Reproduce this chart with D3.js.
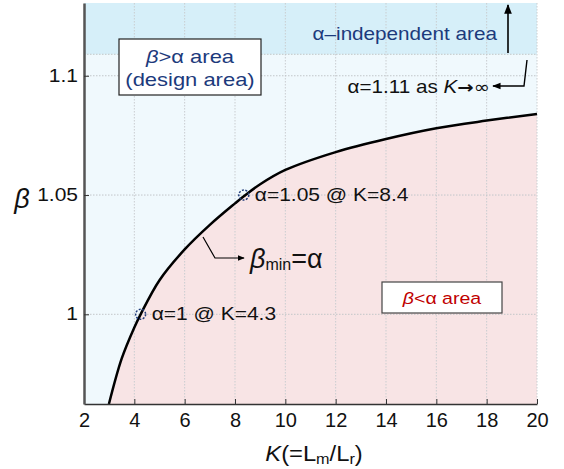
<!DOCTYPE html>
<html>
<head>
<meta charset="utf-8" />
<title>beta min vs K</title>
<script src="https://d3js.org/d3.v7.min.js"></script>
<style type="text/css">
body { margin: 0; background: #fff; }
svg text { font-family: "Liberation Sans", Arial, sans-serif; }
</style>
</head>
<body>
<div id="svg"></div>
<script type="text/javascript">
// values
var kValues = [2.99, 3.5, 4, 4.25, 5, 6, 7, 8, 8.35, 9, 10, 12, 14, 16, 18, 20];
var betaMin = [0.9624, 0.9815, 0.9945, 1.0, 1.0143, 1.0272, 1.0375, 1.0465, 1.0495, 1.0545, 1.0605, 1.068, 1.0735, 1.078, 1.0812, 1.084];
var markK = [4.25, 8.35];
var markBeta = [1.0, 1.05];
var markText = ["α=1 @ K=4.3", "α=1.05 @ K=8.4"];
var alphaInf = 1.109;
var xTicks = [2, 4, 6, 8, 10, 12, 14, 16, 18, 20];
var yTicks = [1, 1.05, 1.1];
var yTickLabels = ["1", "1.05", "1.1"];

var width = 564,
    height = 469,
    sx = 1.2; // text in the picture is a bit wide

var svg = d3.select("#svg")
    .append("svg")
    .attr("width", width)
    .attr("height", height);

var xScale = d3.scaleLinear()
    .domain([2, 20])
    .range([84, 537]);

var yScale = d3.scaleLinear()
    .domain([0.9624, 1.1305])
    .range([404, 3]);

var x0 = xScale.range()[0], x1 = xScale.range()[1],
    yTop = yScale.range()[1], yBot = yScale.range()[0];

var curve = kValues.map((k, i) => [k, betaMin[i]]);

// areas
svg.append("rect")
    .attr("x", x0).attr("y", yTop)
    .attr("width", x1 - x0).attr("height", yBot - yTop)
    .attr("fill", "#f0f9fd");

svg.append("rect")
    .attr("x", x0).attr("y", yTop)
    .attr("width", x1 - x0).attr("height", yScale(alphaInf) - yTop)
    .attr("fill", "#d6eff9");

var area = d3.area()
    .x(d => xScale(d[0]))
    .y0(yBot)
    .y1(d => yScale(d[1]))
    .curve(d3.curveCatmullRom.alpha(0.5));

svg.append("path")
    .datum(curve)
    .attr("d", area)
    .attr("fill", "#f8e4e5");

// grid
svg.selectAll(".gx")
    .data(xTicks.slice(1))
    .enter()
    .append("line")
    .attr("x1", d => xScale(d)).attr("x2", d => xScale(d))
    .attr("y1", yTop).attr("y2", yBot)
    .attr("stroke", "#c9cdd0")
    .attr("stroke-width", 1)
    .attr("stroke-dasharray", "1.5,1.5");

svg.selectAll(".gy")
    .data(yTicks.concat([alphaInf]))
    .enter()
    .append("line")
    .attr("x1", x0).attr("x2", x1)
    .attr("y1", d => yScale(d)).attr("y2", d => yScale(d))
    .attr("stroke", "#c2c6c9")
    .attr("stroke-width", 1)
    .attr("stroke-dasharray", "1.5,1.5");

// curve
var line = d3.line()
    .x(d => xScale(d[0]))
    .y(d => yScale(d[1]))
    .curve(d3.curveCatmullRom.alpha(0.5));

svg.append("path")
    .datum(curve)
    .attr("d", line)
    .attr("fill", "none")
    .attr("stroke", "#000")
    .attr("stroke-width", 2.5);

// axes
var xAxis = d3.axisBottom(xScale)
    .tickValues(xTicks)
    .tickFormat(d3.format("d"))
    .tickSizeInner(-5)
    .tickSizeOuter(0)
    .tickPadding(9);

var yAxis = d3.axisLeft(yScale)
    .tickValues(yTicks)
    .tickFormat((d, i) => yTickLabels[i])
    .tickSizeInner(-5)
    .tickSizeOuter(0)
    .tickPadding(6);

var gX = svg.append("g")
    .attr("transform", "translate(0," + yBot + ")")
    .call(xAxis);
gX.select(".domain").attr("stroke", "#333").attr("stroke-width", 1.5);
gX.selectAll(".tick line").attr("stroke", "#333");
gX.selectAll(".tick text").attr("font-size", 20).attr("fill", "#111")
    .attr("font-family", "Liberation Sans, Arial, sans-serif");

var gY = svg.append("g")
    .attr("transform", "translate(" + x0 + ",0)")
    .call(yAxis);
gY.select(".domain").attr("stroke", "#555").attr("stroke-width", 2.5);
gY.selectAll(".tick line").attr("stroke", "#333");
gY.selectAll(".tick text").attr("font-size", 17.5).attr("fill", "#111")
    .attr("font-family", "Liberation Sans, Arial, sans-serif")
    .attr("transform", "scale(1.2,1)")
    .attr("x", -6 / 1.2);

// text helper: parts are [text, italic]
function label(x, y, size, color, parts, anchor, k) {
    var t = svg.append("text")
        .attr("transform", "translate(" + x + "," + y + ") scale(" + (k || sx) + ",1)")
        .attr("font-size", size)
        .attr("fill", color)
        .attr("text-anchor", anchor || "start");
    parts.forEach(p => {
        t.append("tspan").text(p[0]).attr("font-style", p[1] ? "italic" : null);
    });
    return t;
}

// axis titles
label(22, 208, 27, "#111", [["β", true]], "middle", 1);
var xt = svg.append("text")
    .attr("transform", "translate(314,461) scale(1.08,1)")
    .attr("text-anchor", "middle")
    .attr("font-size", 22)
    .attr("fill", "#111");
xt.append("tspan").text("K").attr("font-style", "italic");
xt.append("tspan").text("(=L");
xt.append("tspan").text("m").attr("font-size", 15).attr("dy", 3);
xt.append("tspan").text("/L").attr("dy", -3);
xt.append("tspan").text("r").attr("font-size", 15).attr("dy", 3);
xt.append("tspan").text(")").attr("dy", -3);

// marked points
svg.selectAll(".mark")
    .data(markK)
    .enter()
    .append("circle")
    .attr("cx", d => xScale(d))
    .attr("cy", (d, i) => yScale(markBeta[i]))
    .attr("r", 5)
    .attr("fill", "none")
    .attr("stroke", "#1f3a7a")
    .attr("stroke-width", 1.5)
    .attr("stroke-dasharray", "2,1.5");

markText.forEach((s, i) => {
    label(xScale(markK[i]) + 11, yScale(markBeta[i]) + 6, 17.5, "#111", [[s, false]]);
});

// design area box
svg.append("rect")
    .attr("x", 119).attr("y", 39)
    .attr("width", 142).attr("height", 56)
    .attr("fill", "#fff")
    .attr("stroke", "#222")
    .attr("stroke-width", 1.2);
label(190, 63, 18, "#1c3a7c", [["β", true], [">α area", false]], "middle", 1.22);
label(190, 86, 18, "#1c3a7c", [["(design area)", false]], "middle", 1.22);

// beta < alpha box
svg.append("rect")
    .attr("x", 382).attr("y", 282)
    .attr("width", 120).attr("height", 31)
    .attr("fill", "#fff")
    .attr("stroke", "#444")
    .attr("stroke-width", 1.2);
label(442, 304, 17, "#c00000", [["β", true], ["<α area", false]], "middle", 1.15);

// alpha independent area
label(497, 40, 18, "#1c3a7c", [["α–independent area", false]], "end", 1.15);
var ainf = label(490, 93, 18, "#111", [["α=1.11 as ", false], ["K", true]], "end", 1.15);
ainf.append("tspan").text("→").attr("font-family", "DejaVu Sans").attr("font-weight", "bold").attr("font-size", 17);
ainf.append("tspan").text("∞").attr("font-family", "DejaVu Sans").attr("font-size", 17);

// arrows
var defs = svg.append("defs");
defs.append("marker")
    .attr("id", "head")
    .attr("viewBox", "0 0 10 10")
    .attr("refX", 9).attr("refY", 5)
    .attr("markerWidth", 6).attr("markerHeight", 6)
    .attr("markerUnits", "strokeWidth")
    .attr("orient", "auto")
    .append("path")
    .attr("d", "M0,1 L10,5 L0,9 Z")
    .attr("fill", "#000");

svg.append("line")
    .attr("x1", 508).attr("y1", 53)
    .attr("x2", 508).attr("y2", 5)
    .attr("stroke", "#000").attr("stroke-width", 1.6)
    .attr("marker-end", "url(#head)");

svg.append("path")
    .attr("d", "M527,60 L524,86 L493,86")
    .attr("fill", "none")
    .attr("stroke", "#000").attr("stroke-width", 1.4)
    .attr("marker-end", "url(#head)");

svg.append("path")
    .attr("d", "M203,237 L215,258 L244,258")
    .attr("fill", "none")
    .attr("stroke", "#000").attr("stroke-width", 1.2)
    .attr("marker-end", "url(#head)");

// beta_min = alpha
var bm = svg.append("text")
    .attr("x", 250).attr("y", 268)
    .attr("font-size", 27)
    .attr("fill", "#111");
bm.append("tspan").text("β").attr("font-style", "italic");
bm.append("tspan").text("min").attr("font-size", 16).attr("dy", 2);
bm.append("tspan").text("=α").attr("dy", -2);
</script>
</body>
</html>
